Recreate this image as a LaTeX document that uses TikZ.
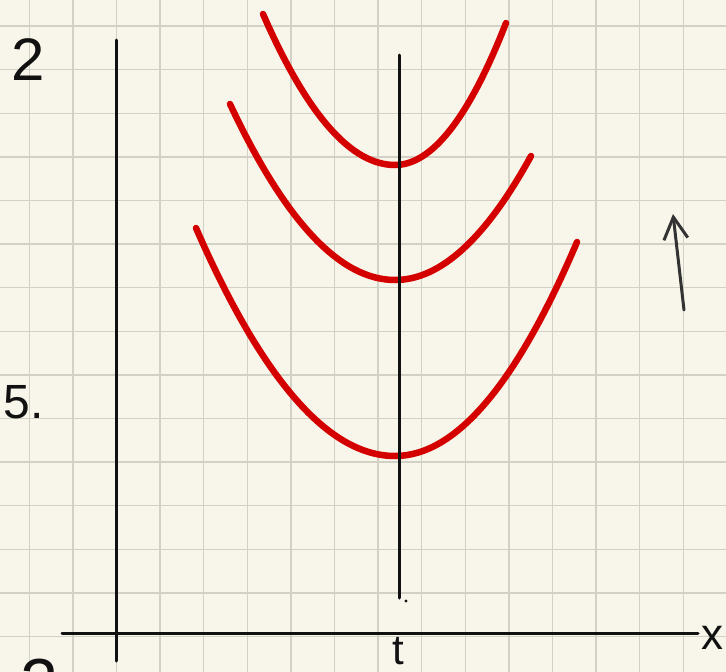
\documentclass[tikz,border=0pt]{standalone}
\usepackage{fontspec}
\setmainfont{Liberation Sans}
\usepackage{tikz}
\usetikzlibrary{arrows.meta}
\definecolor{skpaper}{HTML}{F8F6EA}
\definecolor{skgrid}{HTML}{D2D1C5}
\definecolor{skred}{HTML}{D40000}
\definecolor{skink}{HTML}{111111}
\definecolor{skpen}{HTML}{333333}

% left end x/y, vertex y, right end x/y (vertex x fixed at \vx)
\def\vx{395}
\newcommand{\bowl}[6]{%
  \coordinate (#1l) at (#2,#3);
  \coordinate (#1v) at (\vx,#4);
  \coordinate (#1r) at (#5,#6);
  \draw[curve] (#1l) .. controls ({#2+(\vx-#2)/3},{#3+2*(#4-#3)/3}) and ({\vx-(\vx-#2)/3},#4) .. (#1v)
                     .. controls ({\vx+(#5-\vx)/3},#4) and ({#5-(#5-\vx)/3},{#6+2*(#4-#6)/3}) .. (#1r);}

\begin{document}
\begin{tikzpicture}[
  x=1pt, y=-1pt,
  gridline/.style={draw=skgrid, line width=1.4pt},
  axis/.style={draw=skink, line width=3pt, line cap=round},
  curve/.style={draw=skred, line width=6.5pt, line cap=round},
  hand/.style={inner sep=0pt, text=skink},
  pen/.style={draw=skpen, line width=3pt, line cap=round,
              -{Straight Barb[length=22pt,width=24pt]}},
]

% ---- paper ----
\fill[skpaper] (0,0) rectangle (726,672);
\useasboundingbox (0,0) rectangle (726,672);
\clip (0,0) rectangle (726,672);

% ---- grid ----
\foreach \k in {0,...,16}{
  \draw[gridline] ({29.3+43.6*\k},0) -- ({29.3+43.6*\k},672);
}
\foreach \k in {0,...,14}{
  \draw[gridline] (0,{26+43.6*\k}) -- (726,{26+43.6*\k});
}

% ---- red bowls ----
\bowl{top}{263}{14}{165}{506}{23}
\bowl{mid}{230}{104}{280}{531}{156}
\bowl{low}{196}{228}{456}{577}{242}

% ---- axes ----
\coordinate (ytop) at (116,40);
\coordinate (ybot) at (116,661);
\coordinate (xlft) at (62,633);
\coordinate (xrgt) at (698,633);
\coordinate (ttop) at (399,55);
\coordinate (tbot) at (399,598);
\draw[axis] (ytop) -- (ybot);
\draw[axis] (xlft) -- (xrgt);
\draw[axis] (ttop) -- (tbot);
\fill[skink] (406,601) circle (1.7);

% ---- labels ----
\node[hand, font=\fontsize{60}{60}\selectfont] (ltwo) at (28,60) {2};
\node[hand, font=\fontsize{48}{48}\selectfont] (lfive) at (24,402) {5.};
\node[hand, font=\fontsize{68}{68}\selectfont] (lzero) at (39,683) {2};
\node[hand, font=\fontsize{42}{42}\selectfont] (lt) at (398,651) {t};
\node[hand, font=\fontsize{44}{44}\selectfont] (lx) at (712,638) {x};

% ---- arrow ----
\coordinate (pfoot) at (684,310);
\coordinate (ptip) at (673,214);
\draw[pen] (pfoot) -- (ptip);

\end{tikzpicture}
\end{document}
